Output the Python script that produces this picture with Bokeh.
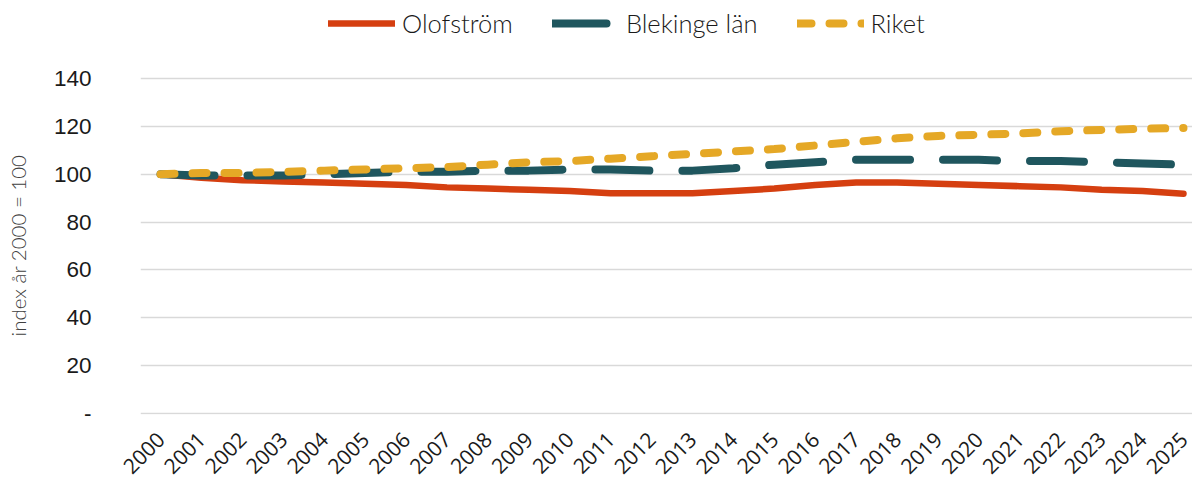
from bokeh.plotting import figure
from bokeh.models import Legend, LegendItem, FixedTicker, Range1d
from bokeh.layouts import column
from bokeh.embed import file_html
from bokeh.resources import INLINE
import math

years = list(range(2000, 2026))
olofstrom = [100, 98.5, 97.5, 97, 96.5, 96, 95.5, 94.5, 94, 93.5, 93, 92, 92, 92,
             93, 94, 95.5, 96.5, 96.5, 96, 95.5, 95, 94.5, 93.5, 93, 91.8]
blekinge = [100, 99.5, 99.5, 99.5, 100, 100.5, 101, 101, 101.5, 101.5, 102, 102, 101.5, 101.5,
            102.5, 104, 105, 106, 106, 106, 106, 105.5, 105.5, 105, 104.5, 104]
riket = [100, 100.5, 100.5, 101, 101.5, 102, 102.5, 103, 104, 105, 105.5, 106.5, 107.5, 108.5,
         109.5, 110.5, 112, 113.5, 115, 116, 116.5, 117, 118, 118.5, 119, 119.3]
y_ticks = [0, 20, 40, 60, 80, 100, 120, 140]
series_names = ["Olofström", "Blekinge län", "Riket"]
y_title = "index år 2000 = 100"

RED = "#D53F10"
TEAL = "#1F565E"
YELLOW = "#E5A826"

styles = [dict(line_color=RED, line_width=6.5, line_cap="round", line_join="round"),
          dict(line_color=TEAL, line_width=8, line_cap="round", line_join="round", line_dash="54 33"),
          dict(line_color=YELLOW, line_width=8, line_cap="round", line_join="round", line_dash="14 18")]
series = [olofstrom, blekinge, riket]

# ---- main chart ----
p = figure(width=1192, height=418, output_backend="svg", toolbar_location=None,
           x_range=Range1d(1999.511, 2025.22), y_range=Range1d(-0.418, 140.836),
           min_border_left=140, min_border_right=0, min_border_top=10, min_border_bottom=70)
p.outline_line_color = None
p.background_fill_color = "white"

for vals, st in zip(series, styles):
    p.line(years, vals, **st)

p.xgrid.grid_line_color = None
p.ygrid.grid_line_color = "#D9D9D9"
p.ygrid.grid_line_width = 1.5

p.xaxis.ticker = FixedTicker(ticks=years)
p.yaxis.ticker = FixedTicker(ticks=y_ticks)
p.yaxis.major_label_overrides = {0: "-"}

for ax in (p.xaxis, p.yaxis):
    ax.axis_line_color = None
    ax.major_tick_line_color = None
    ax.minor_tick_line_color = None
    ax.major_tick_out = 0
    ax.major_tick_in = 0

p.yaxis.major_label_text_font = "Liberation Sans"
p.yaxis.major_label_text_font_size = "22.5px"
p.yaxis.major_label_text_color = "#1a1a1a"
p.yaxis.major_label_standoff = 49
p.yaxis.axis_label = y_title
p.yaxis.axis_label_text_font = "Lato Light"
p.yaxis.axis_label_text_font_size = "20.5px"
p.yaxis.axis_label_text_font_style = "normal"
p.yaxis.axis_label_text_color = "#404040"
p.yaxis.axis_label_standoff = 21

p.xaxis.major_label_orientation = math.pi / 4
p.xaxis.major_label_text_font = "Open Sans"
p.xaxis.major_label_text_font_size = "21px"
p.xaxis.major_label_text_color = "#1a1a1a"
p.xaxis.major_label_standoff = 21

# ---- legend strip (same series, drawn outside its own view so only the legend shows) ----
top = figure(width=1192, height=66, output_backend="svg", toolbar_location=None,
             x_range=Range1d(0, 1), y_range=Range1d(0, 1),
             min_border_left=0, min_border_right=0, min_border_top=0, min_border_bottom=0)
top.outline_line_color = None
top.axis.visible = False
top.grid.visible = False
leg_renderers = [top.line(years, vals, **st) for vals, st in zip(series, styles)]

legend = Legend(items=[LegendItem(label=n, renderers=[r]) for n, r in zip(series_names, leg_renderers)],
                orientation="horizontal", location=(188, 28.5))
legend.glyph_width = 67
legend.glyph_height = 24
legend.label_height = 24
legend.label_standoff = 7
legend.spacing = 39
legend.padding = 0
legend.margin = 0
legend.label_text_font = "Lato Light"
legend.label_text_font_size = "25.5px"
legend.label_text_color = "#1a1a1a"
legend.background_fill_alpha = 0
legend.border_line_alpha = 0
top.add_layout(legend)

layout = column(top, p, spacing=0)
open("out.html", "w").write(file_html(layout, INLINE))
